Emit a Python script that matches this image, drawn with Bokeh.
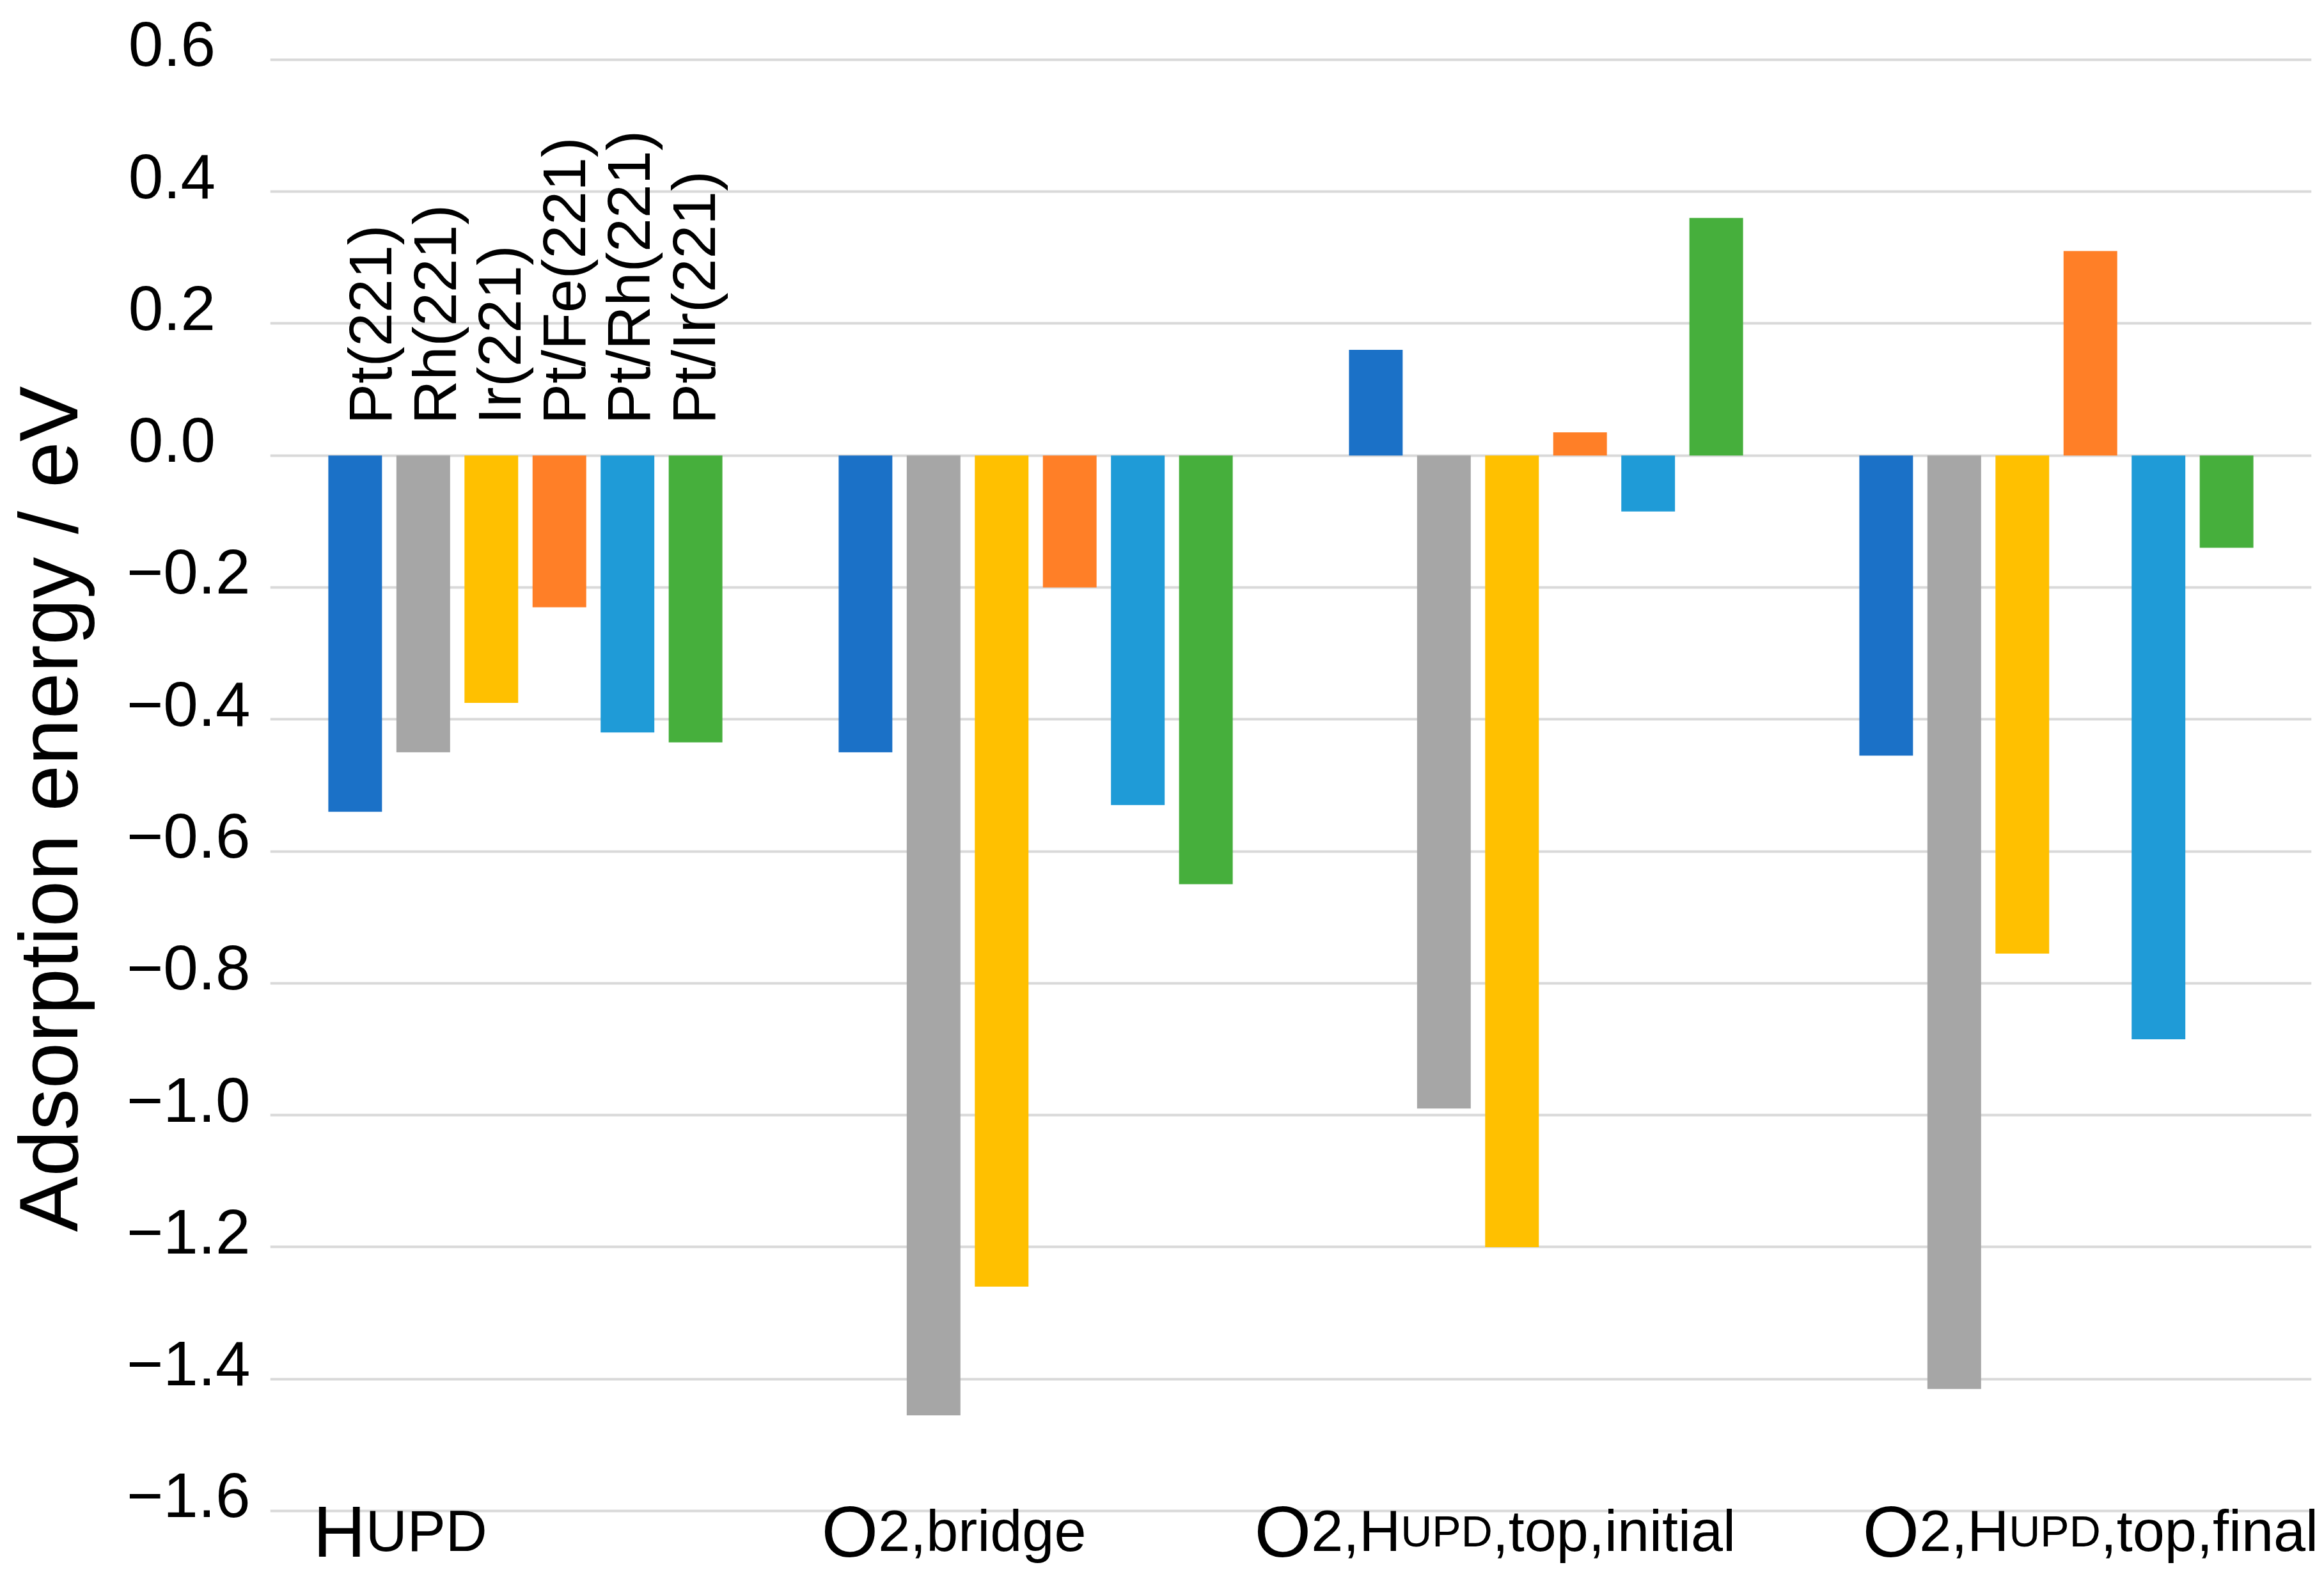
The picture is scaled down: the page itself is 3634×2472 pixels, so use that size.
import math
from bokeh.plotting import figure
from bokeh.models import Range1d, FixedTicker, ColumnDataSource
from bokeh.transform import dodge
from bokeh.core.properties import value
from bokeh.embed import file_html
from bokeh.resources import INLINE

# ---------------- data ----------------
categories = ["HUPD", "O2,bridge", "O2,HUPD,top,initial", "O2,HUPD,top,final"]
surfaces = ["Pt(221)", "Rh(221)", "Ir(221)", "Pt/Fe(221)", "Pt/Rh(221)", "Pt/Ir(221)"]

pt_221 = [-0.54, -0.45, 0.16, -0.455]
rh_221 = [-0.45, -1.455, -0.99, -1.415]
ir_221 = [-0.375, -1.26, -1.20, -0.755]
ptfe_221 = [-0.23, -0.20, 0.035, 0.31]
ptrh_221 = [-0.42, -0.53, -0.085, -0.885]
ptir_221 = [-0.435, -0.65, 0.36, -0.14]

y_ticks = [0.6, 0.4, 0.2, 0.0, -0.2, -0.4, -0.6, -0.8, -1.0, -1.2, -1.4, -1.6]
# positive labels get a trailing figure space so that all labels share a left edge
y_tick_labels = ["0.6\u2007", "0.4\u2007", "0.2\u2007", "0.0\u2007", "\u22120.2", "\u22120.4",
                 "\u22120.6", "\u22120.8", "\u22121.0", "\u22121.2", "\u22121.4", "\u22121.6"]

# rich category labels: (text piece, font size px)
category_label_parts = [
    [("H", 114), ("UPD", 90)],
    [("O", 114), ("2,bridge", 90)],
    [("O", 114), ("2,H", 90), ("UPD", 68), (",top,initial", 90)],
    [("O", 114), ("2,H", 90), ("UPD", 68), (",top,final", 90)],
]

# ---------------- style ----------------
colors = ["#1B71C7", "#A6A6A6", "#FFC000", "#FF7F27", "#1F9BD7", "#46AF3C"]
FONT = "Liberation Sans"
slot = 0.1334
bar_w = 0.1052
label_start_px = [-332, -335, -456, -303]   # left start of category labels rel. to category centre
bar_label_pitch_px = 101.2
bar_label_shift_px = 10
tick_label_lift = 0.0233                     # tick labels sit slightly above their grid lines
Y_START, Y_END = -1.697, 0.625

# Arial / Liberation Sans advance widths (per 1000 em)
ADV = {"H": 722, "U": 722, "P": 667, "D": 722, "O": 778, "2": 556, ",": 278,
       "b": 556, "r": 333, "i": 222, "d": 556, "g": 556, "e": 556, "t": 278,
       "o": 556, "p": 556, "n": 556, "a": 556, "l": 222, "f": 278}

def text_width(s, size):
    return sum(ADV.get(c, 556) for c in s) * size / 1000.0

p = figure(width=3626, height=2464, x_range=categories, y_range=Range1d(Y_START, Y_END),
           output_backend="svg", toolbar_location=None,
           min_border_left=420, min_border_right=12, min_border_top=67, min_border_bottom=2)
p.x_range.range_padding = 0
p.extra_y_ranges = {"ticks": Range1d(Y_START - tick_label_lift, Y_END - tick_label_lift)}
p.outline_line_color = None
p.background_fill_color = "white"
p.border_fill_color = "white"

src = ColumnDataSource(dict(cat=categories, pt=pt_221, rh=rh_221, ir=ir_221,
                            ptfe=ptfe_221, ptrh=ptrh_221, ptir=ptir_221))
fields = ["pt", "rh", "ir", "ptfe", "ptrh", "ptir"]
for k, (f, c) in enumerate(zip(fields, colors)):
    p.vbar(x=dodge("cat", (k - 2.5) * slot, range=p.x_range), top=f, bottom=0,
           width=bar_w, source=src, fill_color=c, line_color=None)

# rotated surface labels above the first group
lab_src = ColumnDataSource(dict(
    x=[categories[0]] * len(surfaces),
    y=[0.0] * len(surfaces),
    text=surfaces,
    xo=[(k - 2.5) * bar_label_pitch_px + bar_label_shift_px for k in range(len(surfaces))],
))
p.text(x="x", y="y", text="text", x_offset="xo", y_offset=-49, angle=math.pi / 2,
       source=lab_src, text_font=value(FONT), text_font_size="95px",
       text_align="left", text_baseline="middle", text_color="black", level="annotation")

# category labels (mixed sizes)
cx, ctext, cxo, csize = [], [], [], []
for cat, parts, start in zip(categories, category_label_parts, label_start_px):
    off = start
    for piece, size in parts:
        cx.append(cat)
        ctext.append(piece)
        cxo.append(off)
        csize.append(f"{size}px")
        off += text_width(piece, size)
cat_src = ColumnDataSource(dict(x=cx, y=[y_ticks[-1]] * len(cx), text=ctext, xo=cxo, fs=csize))
p.text(x="x", y="y", text="text", x_offset="xo", y_offset=32, source=cat_src,
       text_font=value(FONT), text_font_size="fs", text_align="left",
       text_baseline="alphabetic", text_color="black", level="annotation")

# axes
p.xaxis.visible = False
p.xgrid.grid_line_color = None
p.yaxis.y_range_name = "ticks"
p.yaxis.ticker = FixedTicker(ticks=y_ticks)
p.yaxis.major_label_overrides = {t: l for t, l in zip(y_ticks, y_tick_labels)}
p.yaxis.axis_line_color = None
p.yaxis.major_tick_line_color = None
p.yaxis.minor_tick_line_color = None
p.yaxis.major_tick_out = 0
p.yaxis.major_tick_in = 0
p.yaxis.major_label_text_font = FONT
p.yaxis.major_label_text_font_size = "98px"
p.yaxis.major_label_text_color = "black"
p.yaxis.major_label_standoff = 31
p.yaxis.axis_label = "Adsorption energy / eV"
p.yaxis.axis_label_text_font = FONT
p.yaxis.axis_label_text_font_size = "130px"
p.yaxis.axis_label_text_font_style = "normal"
p.yaxis.axis_label_text_color = "black"
p.yaxis.axis_label_standoff = 46
p.ygrid.ticker = FixedTicker(ticks=y_ticks)
p.ygrid.grid_line_color = "#D9D9D9"
p.ygrid.grid_line_width = 4

open("out.html", "w").write(file_html(p, INLINE))
